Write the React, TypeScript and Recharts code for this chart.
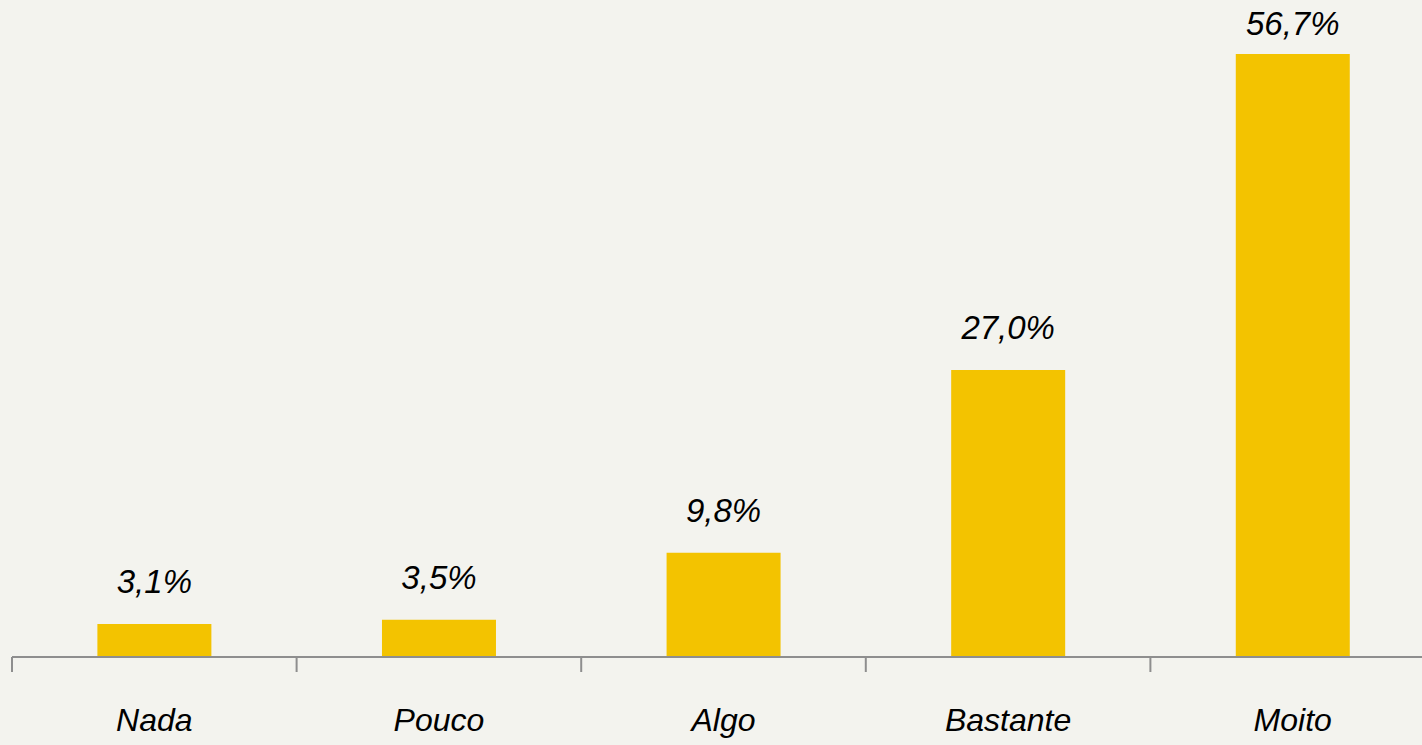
import { BarChart, Bar, XAxis, YAxis, LabelList } from "recharts";

const categories = ["Nada", "Pouco", "Algo", "Bastante", "Moito"];
const shares = [3.1, 3.5, 9.8, 27.0, 56.7];

const data = categories.map((name, i) => ({ name, value: shares[i] }));

const W = 1440;
const H = 745;
const MARGIN = { top: 19, right: 5, left: 12, bottom: 0 };
const BAND = (W - MARGIN.left - MARGIN.right) / categories.length;
const AXIS = "#8e8e8e";
const FONT = "'Liberation Sans', Arial, sans-serif";

const fmt = (v: number) => v.toFixed(1).replace(".", ",") + "%";

// tick mark at the band edge, label at the band centre
const CategoryTick = (props: any) => {
  const { x, y, payload } = props;
  return (
    <g>
      <line x1={x - BAND / 2} y1={y} x2={x - BAND / 2} y2={y + 15} stroke={AXIS} strokeWidth={2} />
      <text
        x={x}
        y={y + 74}
        textAnchor="middle"
        fill="#000"
        fontFamily={FONT}
        fontStyle="italic"
        fontSize={32}
      >
        {payload.value}
      </text>
    </g>
  );
};

const ValueLabel = (props: any) => {
  const { x, y, width, value } = props;
  return (
    <text
      x={x + width / 2}
      y={Math.max(y - 31, 35)}
      textAnchor="middle"
      fill="#000"
      fontFamily={FONT}
      fontStyle="italic"
      fontSize={33}
    >
      {fmt(value)}
    </text>
  );
};

export default function App() {
  return (
    <div
      style={{
        position: "absolute",
        left: 0,
        top: 0,
        width: 1422,
        height: H,
        overflow: "hidden",
        background: "#f3f3ee",
      }}
    >
      <BarChart width={W} height={H} data={data} margin={MARGIN} barCategoryGap="30%">
        <XAxis
          dataKey="name"
          height={88}
          axisLine={{ stroke: AXIS, strokeWidth: 2 }}
          tickLine={false}
          tickSize={0}
          tickMargin={0}
          interval={0}
          tick={<CategoryTick />}
        />
        <YAxis hide domain={[0, 60]} />
        <Bar dataKey="value" fill="#f3c300" isAnimationActive={false}>
          <LabelList dataKey="value" content={<ValueLabel />} />
        </Bar>
      </BarChart>
    </div>
  );
}
